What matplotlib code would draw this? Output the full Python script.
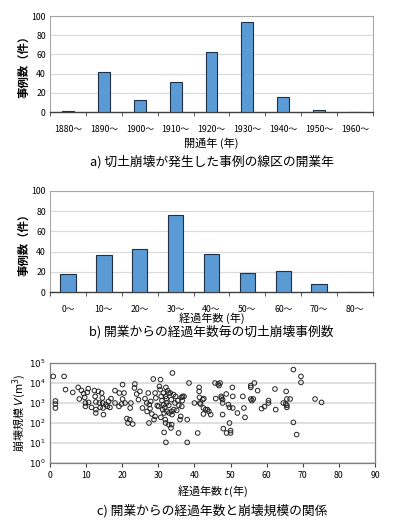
import matplotlib.pyplot as plt
import numpy as np

plt.rcParams['font.family'] = ['Noto Sans CJK JP', 'DejaVu Sans']
plt.rcParams['mathtext.fontset'] = 'dejavusans'

# panel a: opening year of line sections
open_cats = ["1880～", "1890～", "1900～", "1910～", "1920～",
             "1930～", "1940～", "1950～", "1960～"]
open_counts = [1, 42, 12, 31, 63, 94, 16, 2, 0]

# panel b: years elapsed since opening
age_cats = ["0～", "10～", "20～", "30～", "40～", "50～", "60～", "70～", "80～"]
age_counts = [18, 37, 43, 76, 38, 19, 21, 8, 0]

# panel c: elapsed years t vs failure volume V (m3)
t_years = [0.9, 1.5, 1.5, 1.5, 3.9, 4.3, 6.3, 7.8, 8.1, 8.7, 9.3, 9.6, 9.8, 9.8,
           10.3, 10.6, 10.7, 11.5, 12.3, 12.5, 12.7, 12.7, 12.7, 13.4, 13.7, 13.9,
           14.3, 14.5, 14.6, 14.7, 14.8, 15.5, 15.9, 16.2, 16.6, 16.9, 18.0, 18.0,
           19.1, 19.2, 19.8, 20.1, 20.1, 20.5, 20.8, 21.3, 21.6, 22.1, 22.2, 22.4,
           22.9, 23.4, 23.5, 24.0, 24.5, 24.9, 25.6, 26.3, 26.8, 26.9, 27.2, 27.4,
           27.5, 27.7, 27.9, 28.2, 28.6, 28.8, 29.1, 29.1, 29.3, 29.7, 30.1, 30.3,
           30.5, 30.6, 30.7, 30.8, 31.0, 31.2, 31.4, 31.5, 31.6, 31.6, 31.8, 31.9,
           32.0, 32.0, 32.1, 32.1, 32.2, 32.3, 32.4, 32.6, 32.8, 32.9, 32.9, 33.0,
           33.3, 33.5, 33.6, 33.7, 33.7, 33.8, 33.9, 34.2, 34.3, 34.6, 34.8, 35.1,
           35.4, 35.6, 35.7, 36.0, 36.2, 36.4, 36.5, 36.6, 36.7, 37.1, 38.0, 38.0,
           38.5, 40.0, 40.9, 41.3, 41.3, 41.4, 41.5, 41.7, 42.3, 42.5, 42.5, 42.6,
           43.1, 43.6, 44.0, 44.5, 45.7, 45.9, 46.6, 46.8, 47.1, 47.4, 47.5, 47.8,
           47.8, 47.8, 48.0, 48.8, 48.9, 49.4, 49.7, 49.7, 50.0, 50.0, 50.5, 50.6,
           50.6, 51.9, 53.4, 53.7, 54.0, 55.6, 55.6, 55.6, 55.9, 56.3, 56.6, 57.5,
           58.6, 59.4, 60.5, 60.5, 62.5, 62.3, 64.6, 65.3, 65.4, 65.6, 65.6, 65.6,
           66.5, 67.4, 67.4, 68.3, 69.5, 69.5, 73.4, 75.2]
log_vol = [4.33, 3.10, 2.95, 2.75, 4.33, 3.67, 3.53, 3.78, 3.20, 3.63, 3.47, 3.28,
           3.00, 2.83, 3.53, 3.72, 3.03, 2.78, 3.62, 3.33, 3.05, 2.67, 2.50, 3.58,
           3.00, 2.78, 3.50, 3.25, 3.00, 2.75, 2.42, 2.92, 2.83, 3.08, 2.78, 3.22,
           3.62, 3.00, 2.83, 3.50, 2.95, 3.92, 3.20, 3.50, 3.00, 2.22, 2.00, 2.17,
           2.75, 3.00, 1.95, 3.75, 3.95, 3.45, 3.17, 3.58, 2.75, 3.22, 3.00, 2.58,
           3.50, 2.00, 2.92, 2.72, 3.08, 2.45, 4.20, 2.17, 2.33, 3.50, 3.25, 2.87,
           2.83, 3.83, 3.67, 4.17, 2.28, 3.33, 3.12, 2.67, 3.50, 2.92, 2.50, 1.53,
           2.78, 2.17, 2.00, 3.33, 3.78, 1.03, 3.22, 3.00, 2.58, 3.62, 3.50, 2.88,
           1.92, 2.50, 3.50, 1.75, 3.17, 2.58, 1.92, 2.42, 4.50, 3.42, 2.67, 3.00,
           3.33, 2.63, 3.12, 1.50, 2.88, 2.17, 2.33, 3.28, 2.83, 3.12, 3.33, 3.33,
           2.17, 1.03, 4.00, 3.00, 1.50, 3.78, 3.58, 3.28, 3.00, 2.95, 3.17, 2.75,
           2.45, 3.22, 2.67, 2.67, 2.58, 2.42, 4.00, 3.22, 3.95, 3.87, 4.00, 3.33,
           3.25, 3.17, 3.00, 2.42, 1.72, 3.45, 1.50, 2.92, 2.78, 2.00, 1.62, 1.50,
           3.78, 3.33, 2.75, 2.50, 3.33, 2.75, 2.28, 3.78, 3.87, 3.20, 3.12, 3.20,
           4.00, 3.62, 2.72, 2.82, 3.12, 3.00, 2.67, 3.70, 3.00, 2.95, 3.58, 3.20,
           2.88, 2.78, 3.20, 4.67, 2.03, 1.42, 4.33, 4.03, 3.20, 3.03]
volume = np.power(10.0, log_vol)

W, H = 395, 525
fig = plt.figure(figsize=(W / 100, H / 100), dpi=100)
fig.patch.set_facecolor("white")

bar_face = "#5b9bd5"
bar_edge = "#1f2f45"
grid_c = "#d9d9d9"
frame_c = "#7f7f7f"
tick_fs = 6.3
lab_fs = 8.0
cap_fs = 9.2


def axes_px(left, top, right, bottom):
    return fig.add_axes([left / W, 1 - bottom / H, (right - left) / W, (bottom - top) / H])


def bar_panel(ax, cats, counts, width, xlabel, caption, lab_y, cap_y):
    x = np.arange(len(cats))
    ax.bar(x, counts, width=width, color=bar_face, edgecolor=bar_edge, linewidth=0.8, zorder=3)
    ax.set_xlim(-0.5, len(cats) - 0.5)
    ax.set_ylim(0, 100)
    ax.set_yticks(range(0, 101, 20))
    ax.yaxis.grid(True, color=grid_c, lw=0.8, zorder=0)
    ax.set_xticks(x)
    ax.set_xticklabels(cats, fontsize=tick_fs)
    ax.set_xticks(np.arange(-0.5, len(cats), 1), minor=True)
    ax.tick_params(axis="x", which="major", length=0, pad=9)
    ax.tick_params(axis="x", which="minor", length=3, color="#404040", direction="out")
    ax.tick_params(axis="y", length=0, labelsize=tick_fs, pad=3)
    for s in ["top", "right", "left"]:
        ax.spines[s].set_color("#a6a6a6")
        ax.spines[s].set_linewidth(0.8)
    ax.spines["bottom"].set_color("#404040")
    ax.spines["bottom"].set_linewidth(1.0)
    ax.set_ylabel("事例数（件）", fontsize=8.2, fontweight="bold", labelpad=1)
    fig.text((50 + 373) / 2 / W, 1 - lab_y / H, xlabel, ha="center", va="center", fontsize=lab_fs)
    fig.text((50 + 373) / 2 / W, 1 - cap_y / H, caption, ha="center", va="center", fontsize=cap_fs)


ax1 = axes_px(50, 16, 373, 112)
bar_panel(ax1, open_cats, open_counts, 0.33, "開通年 (年)",
          "a) 切土崩壊が発生した事例の線区の開業年", 143, 162)

ax2 = axes_px(50, 191, 373, 292)
bar_panel(ax2, age_cats, age_counts, 0.43, "経過年数 (年)",
          "b) 開業からの経過年数毎の切土崩壊事例数", 318, 332)

# panel c scatter
ax3 = axes_px(50, 363, 375, 463)
ax3.scatter(t_years, volume, s=11, facecolors="none", edgecolors="#222222", linewidths=0.7, zorder=3)
ax3.set_yscale("log")
ax3.set_ylim(1, 1e5)
ax3.set_xlim(0, 90)
ax3.set_xticks(range(0, 91, 10))
ax3.set_yticks([1, 10, 100, 1e3, 1e4, 1e5])
ax3.set_yticklabels([r"$10^{%d}$" % i for i in range(6)])
ax3.minorticks_off()
ax3.yaxis.grid(True, color=grid_c, lw=1.2, zorder=0)
ax3.tick_params(axis="x", length=3, direction="out", labelsize=tick_fs, pad=3, color="#404040")
ax3.tick_params(axis="y", length=0, labelsize=tick_fs, pad=3)
for s in ax3.spines.values():
    s.set_color(frame_c)
    s.set_linewidth(0.9)
ax3.set_ylabel(r"崩壊規模 $V$(m$^3$)", fontsize=lab_fs, labelpad=1)
fig.text((50 + 375) / 2 / W, 1 - 491 / H, r"経過年数 $t$(年)", ha="center", va="center", fontsize=lab_fs)
fig.text((50 + 375) / 2 / W, 1 - 511 / H, "c) 開業からの経過年数と崩壊規模の関係",
         ha="center", va="center", fontsize=cap_fs)

fig.savefig("out.png", dpi=100)
